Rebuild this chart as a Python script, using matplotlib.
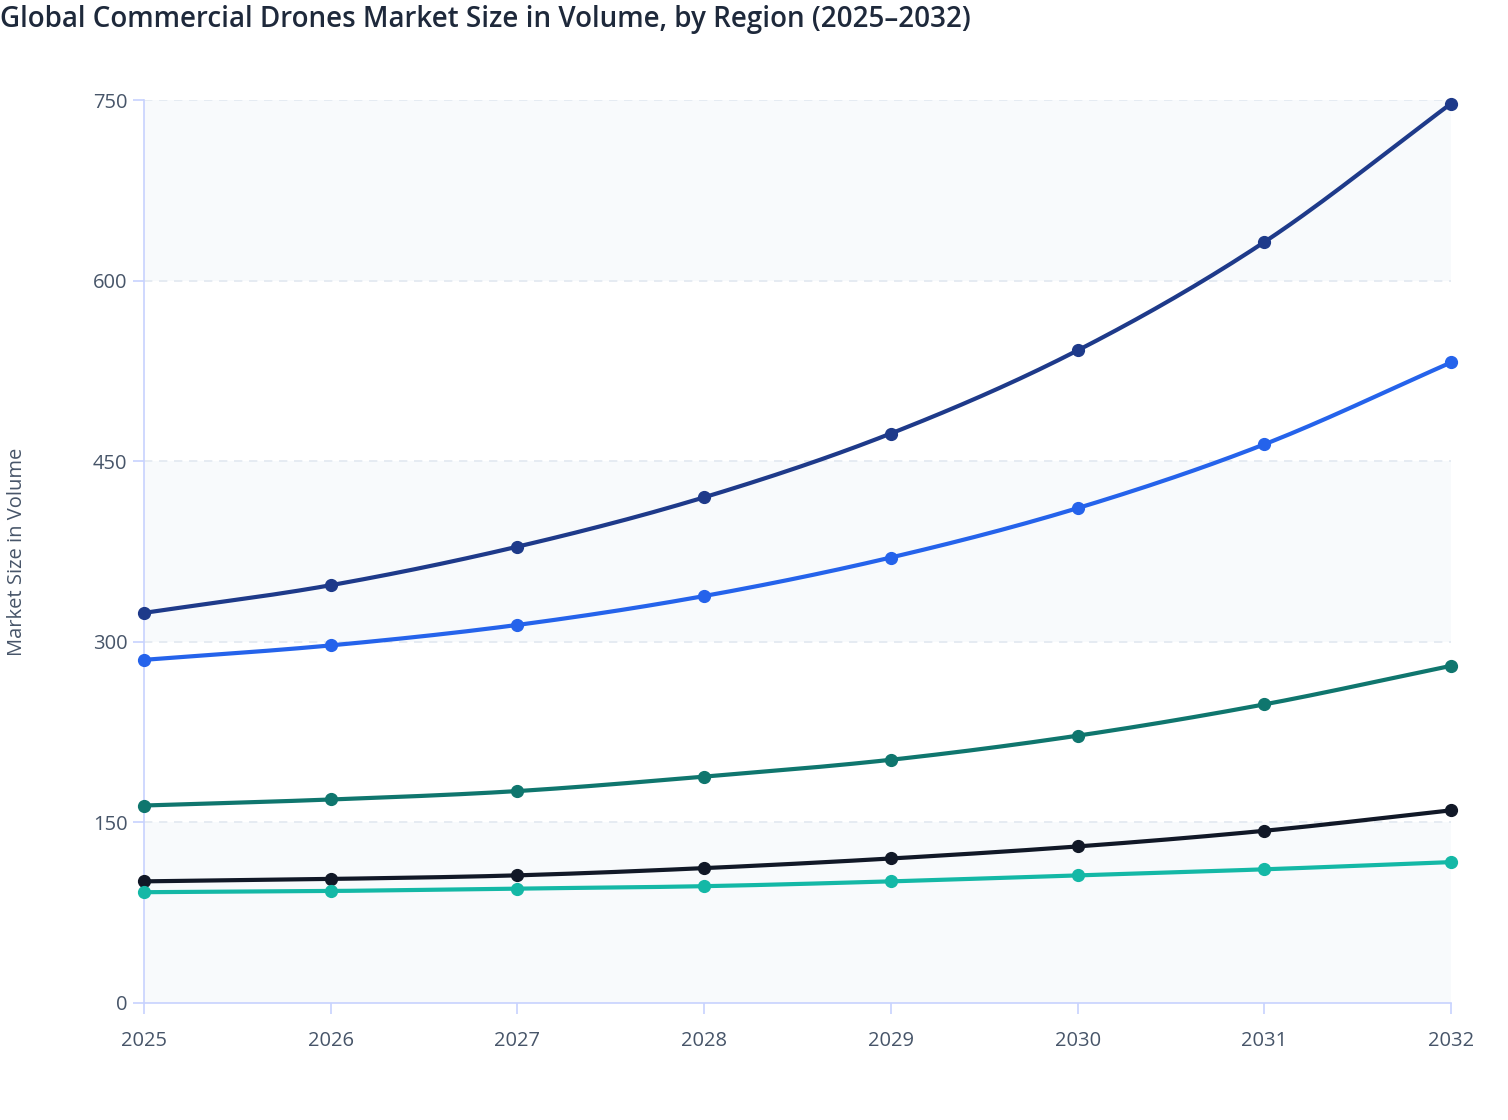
import numpy as np
import matplotlib.pyplot as plt

plt.rcParams['font.family'] = ['Open Sans', 'DejaVu Sans']

# ── data ──────────────────────────────────────────────────
years = [2025, 2026, 2027, 2028, 2029, 2030, 2031, 2032]

north_america = [324, 347, 379, 420, 473, 542, 632, 747]
asia_pacific  = [285, 297, 314, 338, 370, 411, 464, 532]
europe        = [164, 169, 176, 188, 202, 222, 248, 280]
latin_america = [101, 103, 106, 112, 120, 130, 143, 160]
mea           = [92, 93, 95, 97, 101, 106, 111, 117]

series = [
    ("North America", north_america, "#1e3a8a"),
    ("Asia Pacific",  asia_pacific,  "#2563eb"),
    ("Europe",        europe,        "#0f766e"),
    ("Latin America", latin_america, "#111827"),
    ("Middle East & Africa", mea,    "#14b8a6"),
]

y_ticks = [0, 150, 300, 450, 600, 750]


def smooth(x, y, n=30):
    # catmull-rom curve through the points, for drawing only
    x = np.asarray(x, float)
    y = np.asarray(y, float)
    px = np.concatenate([[2 * x[0] - x[1]], x, [2 * x[-1] - x[-2]]])
    py = np.concatenate([[2 * y[0] - y[1]], y, [2 * y[-1] - y[-2]]])
    xs, ys = [], []
    t = np.linspace(0, 1, n)
    for i in range(1, len(px) - 2):
        for p, out in ((px, xs), (py, ys)):
            p0, p1, p2, p3 = p[i - 1], p[i], p[i + 1], p[i + 2]
            out.append(0.5 * ((2 * p1) + (-p0 + p2) * t
                              + (2 * p0 - 5 * p1 + 4 * p2 - p3) * t ** 2
                              + (-p0 + 3 * p1 - 3 * p2 + p3) * t ** 3))
    return np.concatenate(xs), np.concatenate(ys)


fig = plt.figure(figsize=(15.08, 11.2), dpi=100)
ax = fig.add_axes([0.0955, 0.1045, 0.8667, 0.8062])

# alternating bands
for i in range(len(y_ticks) - 1):
    if i % 2 == 0:
        ax.axhspan(y_ticks[i], y_ticks[i + 1], color="#f8fafc", zorder=0, lw=0)

for yt in y_ticks[1:]:
    ax.axhline(yt, color="#e2e8f0", lw=1.2, ls=(0, (5, 4)), zorder=1)

for name, vals, col in series:
    sx, sy = smooth(years, vals)
    ax.plot(sx, sy, color=col, lw=3, zorder=3, solid_capstyle="round")
    ax.plot(years, vals, "o", color=col, ms=8.5, zorder=4, clip_on=False)

ax.set_xlim(2025, 2032)
ax.set_ylim(0, 750)
ax.set_xticks(years)
ax.set_yticks(y_ticks)
ax.tick_params(axis="both", colors="#c7d2fe", length=8, width=1.2,
               labelcolor="#475569", labelsize=14.5)
ax.tick_params(axis="x", pad=12)
ax.tick_params(axis="y", pad=4)

for s in ["top", "right"]:
    ax.spines[s].set_visible(False)
for s in ["left", "bottom"]:
    ax.spines[s].set_color("#c7d2fe")
    ax.spines[s].set_linewidth(1.2)

fig.text(0.0113, 0.5076, "Market Size in Volume", fontsize=14.5, color="#475569",
         rotation=90, ha="center", va="center")

fig.text(0.0, 0.983, "Global Commercial Drones Market Size in Volume, by Region (2025–2032)",
         fontsize=20, fontweight=600, color="#1e293b", ha="left", va="center")

plt.savefig("out.png", dpi=100)
plt.close()
